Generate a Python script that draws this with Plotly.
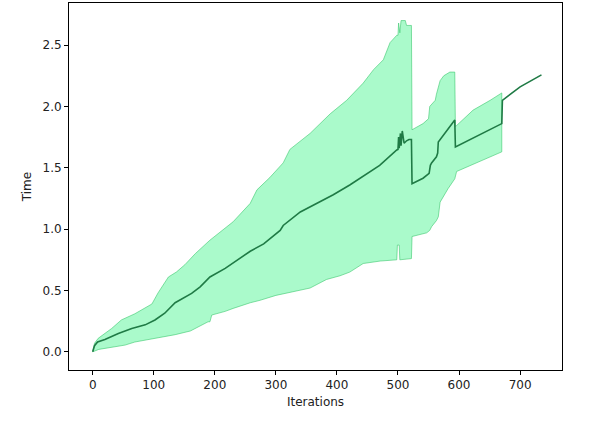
import plotly.graph_objects as go

# Mean curve
mean_x = [0, 3, 8, 20, 42, 64, 86, 102, 118, 135, 162, 176, 192, 217, 258, 280, 307, 312, 340, 356, 394, 421, 443, 470, 498, 500, 501, 502, 504, 505, 507, 510, 514, 518, 522, 523, 541, 551, 553, 555, 563, 565, 566, 577, 593, 594, 670, 671, 694, 700, 735]
mean_y = [0.0, 0.05, 0.08, 0.10, 0.15, 0.19, 0.22, 0.26, 0.315, 0.40, 0.476, 0.53, 0.61, 0.68, 0.82, 0.88, 0.99, 1.03, 1.14, 1.18, 1.28, 1.36, 1.43, 1.52, 1.645, 1.65, 1.75, 1.66, 1.78, 1.68, 1.80, 1.70, 1.72, 1.73, 1.73, 1.37, 1.415, 1.455, 1.52, 1.54, 1.59, 1.62, 1.71, 1.78, 1.89, 1.67, 1.86, 2.05, 2.135, 2.16, 2.257]

# Upper bound of band
up_x = [0, 3, 9, 20, 31, 47, 69, 97, 107, 124, 137, 151, 168, 192, 230, 258, 269, 290, 312, 323, 356, 389, 416, 443, 460, 476, 487, 498, 500, 501, 503, 505, 512, 514, 522, 523, 541, 550, 552, 561, 563, 569, 575, 585, 593, 594, 623, 651, 670]
up_y = [0.0, 0.07, 0.11, 0.15, 0.19, 0.26, 0.31, 0.39, 0.48, 0.61, 0.65, 0.71, 0.80, 0.91, 1.06, 1.21, 1.32, 1.42, 1.54, 1.65, 1.78, 1.94, 2.05, 2.19, 2.30, 2.38, 2.52, 2.58, 2.58, 2.68, 2.60, 2.70, 2.70, 2.66, 2.66, 1.81, 1.86, 1.90, 2.00, 2.05, 2.10, 2.21, 2.25, 2.28, 2.28, 1.835, 1.97, 2.05, 2.11]

# Lower bound of band
low_x = [0, 10, 20, 53, 69, 102, 135, 160, 173, 189, 192, 195, 217, 230, 258, 274, 300, 328, 356, 383, 405, 421, 443, 471, 498, 499, 502, 503, 522, 523, 547, 552, 555, 563, 566, 569, 582, 593, 596, 623, 651, 670]
low_y = [0.0, 0.02, 0.03, 0.055, 0.08, 0.11, 0.14, 0.17, 0.20, 0.245, 0.245, 0.30, 0.33, 0.354, 0.40, 0.42, 0.46, 0.49, 0.52, 0.59, 0.62, 0.65, 0.72, 0.74, 0.75, 0.87, 0.87, 0.75, 0.76, 0.94, 0.97, 0.99, 1.02, 1.07, 1.10, 1.22, 1.33, 1.41, 1.47, 1.53, 1.59, 1.63]

x_ticks = [0, 100, 200, 300, 400, 500, 600, 700]
y_ticks = [0.0, 0.5, 1.0, 1.5, 2.0, 2.5]

fig = go.Figure()
fig.add_trace(go.Scatter(
    x=up_x + low_x[::-1], y=up_y + low_y[::-1],
    fill="toself", fillcolor="rgba(100,245,160,0.55)",
    line=dict(color="rgba(60,200,110,0.6)", width=1),
    mode="lines", hoverinfo="skip", showlegend=False,
))
fig.add_trace(go.Scatter(
    x=mean_x, y=mean_y, mode="lines",
    line=dict(color="#1f7a45", width=1.6),
    showlegend=False,
))

axis_common = dict(
    showline=True, linecolor="black", linewidth=1, mirror=True,
    ticks="outside", ticklen=4, tickcolor="black", tickwidth=1,
    showgrid=False, zeroline=False, automargin=False,
    tickfont=dict(family="DejaVu Sans", size=12, color="#222"),
)
fig.update_xaxes(range=[-38.8, 768.6], tickvals=x_ticks, ticktext=[str(v) for v in x_ticks],
                 title=dict(text="Iterations", font=dict(family="DejaVu Sans", size=12, color="#222"), standoff=6),
                 **axis_common)
fig.update_yaxes(range=[-0.148, 2.843], tickvals=y_ticks, ticktext=[f"{v:.1f}" for v in y_ticks],
                 title=dict(text="Time", font=dict(family="DejaVu Sans", size=12, color="#222"), standoff=8),
                 **axis_common)
fig.update_layout(
    width=599, height=423,
    margin=dict(l=69, r=37, t=3, b=53),
    plot_bgcolor="white", paper_bgcolor="white",
)
fig.write_html("out.html", config={"displayModeBar": False},
               post_script="document.body.style.margin='0';")
